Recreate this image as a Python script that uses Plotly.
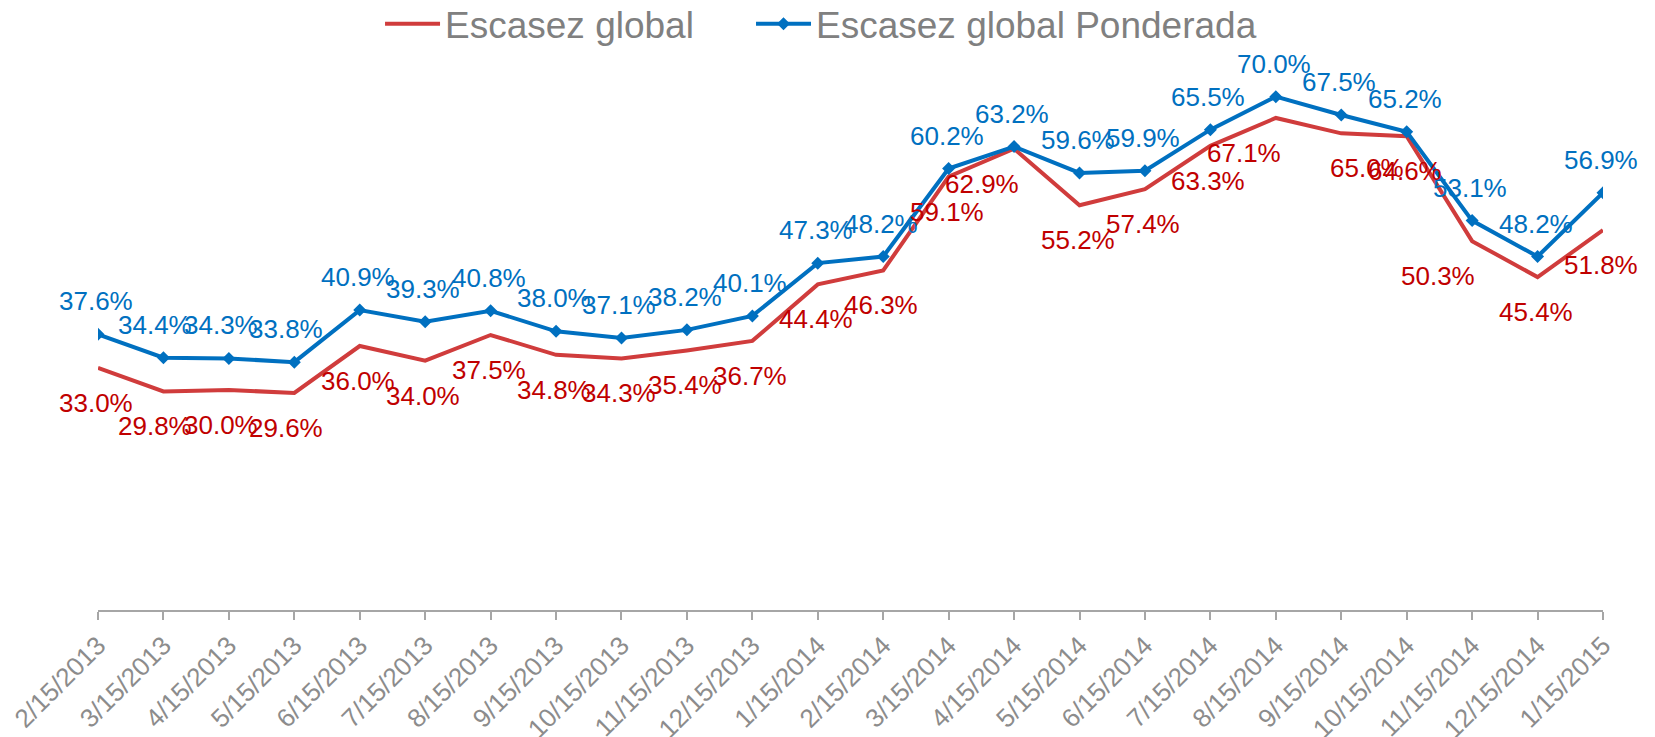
import plotly.graph_objects as go

dates = ["2/15/2013", "3/15/2013", "4/15/2013", "5/15/2013", "6/15/2013", "7/15/2013",
         "8/15/2013", "9/15/2013", "10/15/2013", "11/15/2013", "12/15/2013", "1/15/2014",
         "2/15/2014", "3/15/2014", "4/15/2014", "5/15/2014", "6/15/2014", "7/15/2014",
         "8/15/2014", "9/15/2014", "10/15/2014", "11/15/2014", "12/15/2014", "1/15/2015"]

escasez_global = [33.0, 29.8, 30.0, 29.6, 36.0, 34.0, 37.5, 34.8, 34.3, 35.4, 36.7, 44.4,
                  46.3, 59.1, 62.9, 55.2, 57.4, 63.3, 67.1, 65.0, 64.6, 50.3, 45.4, 51.8]

escasez_ponderada = [37.6, 34.4, 34.3, 33.8, 40.9, 39.3, 40.8, 38.0, 37.1, 38.2, 40.1, 47.3,
                     48.2, 60.2, 63.2, 59.6, 59.9, 65.5, 70.0, 67.5, 65.2, 53.1, 48.2, 56.9]

# label placement styles (pixel shifts of the data labels)
red_label_xshift = [0, -6, -6, -6, 0, 0, 0, 0, 0, 0, 0, 0,
                    0, 0, -30, 0, 0, 0, -30, 28, 0, -32, 0, 0]
blue_label_xshift = [0, -6, -6, -6, 0, 0, 0, 0, 0, 0, 0, 0,
                     0, 0, 0, 0, 0, 0, 0, 0, 0, 0, 0, 0]

RED_LINE = "#D03C3C"
RED_TEXT = "#C00000"
BLUE = "#0070C0"
FONT = "Liberation Sans, Arial, sans-serif"

fig = go.Figure()
fig.add_trace(go.Scatter(
    x=dates, y=escasez_global, name="Escasez global", mode="lines",
    line=dict(color=RED_LINE, width=4), legend="legend",
))
fig.add_trace(go.Scatter(
    x=dates, y=escasez_ponderada, name="Escasez global Ponderada", mode="lines+markers",
    line=dict(color=BLUE, width=4),
    marker=dict(symbol="diamond", size=10, color=BLUE), legend="legend2",
))

annotations = []
for i, (d, v) in enumerate(zip(dates, escasez_ponderada)):
    annotations.append(dict(x=d, y=v, text=f"{v:.1f}%", showarrow=False,
                            yshift=33, xshift=blue_label_xshift[i] - 2,
                            font=dict(size=26, color=BLUE, family=FONT)))
for i, (d, v) in enumerate(zip(dates, escasez_global)):
    annotations.append(dict(x=d, y=v, text=f"{v:.1f}%", showarrow=False,
                            yshift=-35, xshift=red_label_xshift[i] - 2,
                            font=dict(size=26, color=RED_TEXT, family=FONT)))

legend_style = dict(orientation="h", xanchor="left", y=1.065, yanchor="middle",
                    font=dict(size=37, color="#808080", family=FONT),
                    itemwidth=55, bgcolor="rgba(0,0,0,0)")

fig.update_layout(
    width=1647, height=729,
    margin=dict(l=90, r=52, t=52, b=127, autoexpand=False),
    paper_bgcolor="white", plot_bgcolor="white",
    font=dict(family=FONT),
    showlegend=True,
    legend=dict(x=0.1874, **legend_style),
    legend2=dict(x=0.4339, **legend_style),
    annotations=annotations,
    xaxis=dict(type="category", range=[0, 23], showgrid=False, zeroline=False,
               automargin=False,
               showline=True, linecolor="#A6A6A6", linewidth=2,
               ticks="outside", ticklen=8, tickwidth=2, tickcolor="#A6A6A6",
               tickangle=-45, tickfont=dict(size=26, color="#8C8C8C", family=FONT)),
    yaxis=dict(range=[0, 75], visible=False, showgrid=False, zeroline=False,
               automargin=False),
)

fig.write_html("out.html")
